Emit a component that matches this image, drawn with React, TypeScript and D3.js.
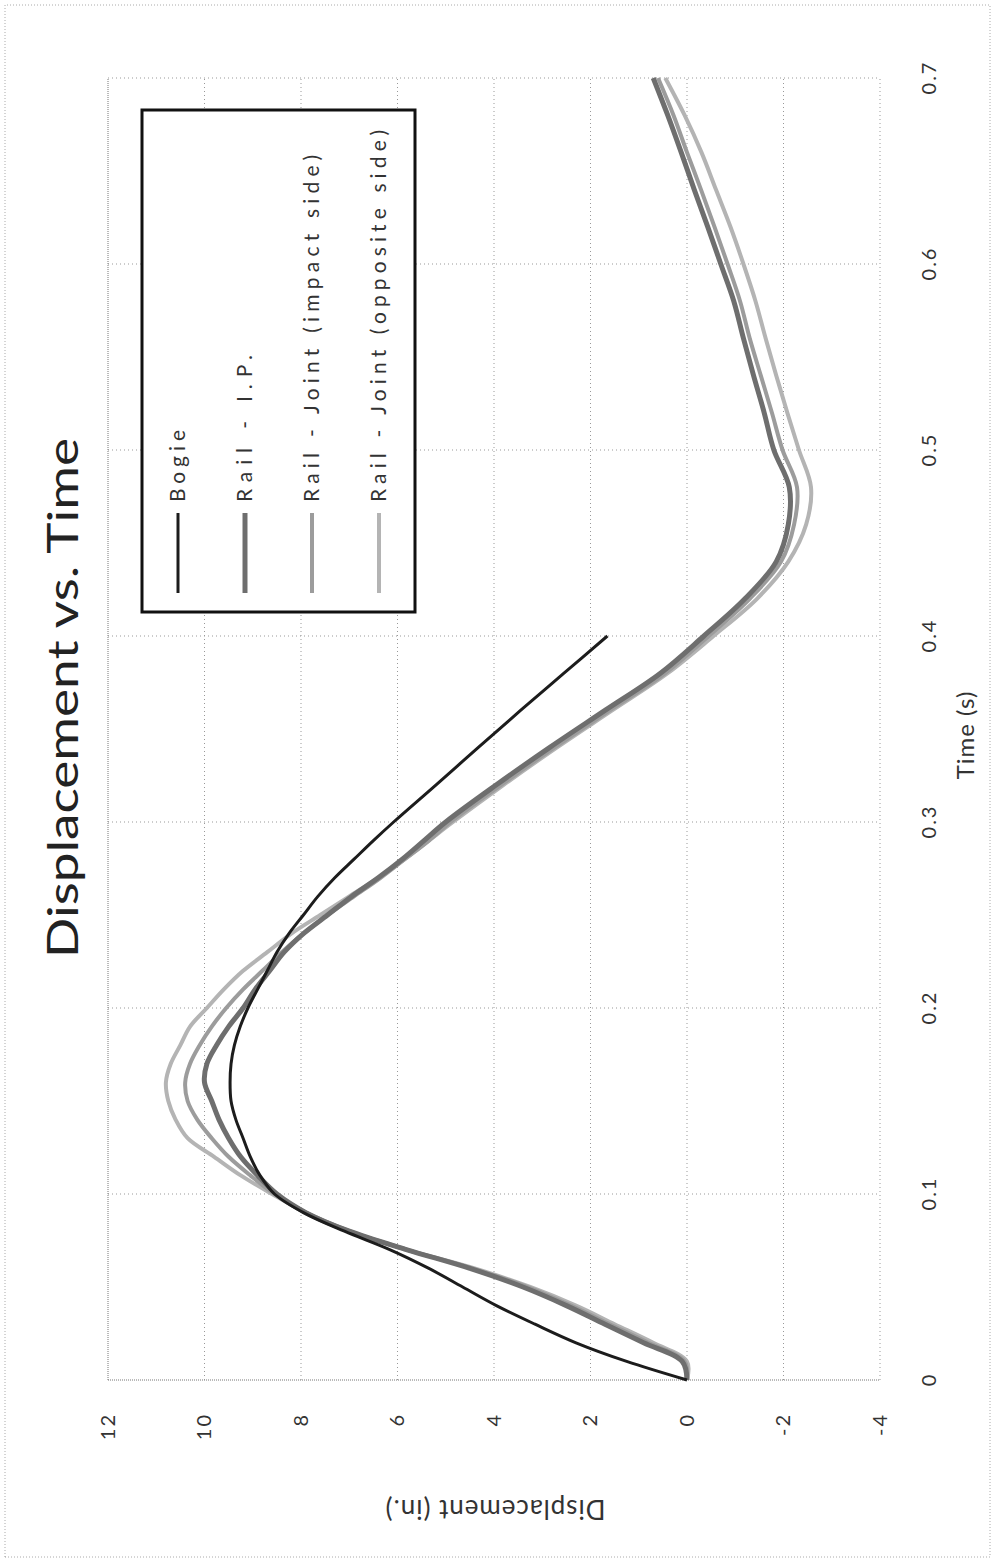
import React, { useEffect, useRef } from 'react';
import * as d3 from 'd3';

// time (s) of the rail samples
const timeRail = [
  0, 0.01, 0.02, 0.03, 0.04, 0.05, 0.06, 0.07, 0.08, 0.09,
  0.1, 0.11, 0.12, 0.13, 0.14, 0.15, 0.16, 0.17, 0.18, 0.19,
  0.2, 0.21, 0.22, 0.23, 0.24, 0.25, 0.26, 0.27, 0.28, 0.29,
  0.3, 0.32, 0.34, 0.36, 0.38, 0.4, 0.42, 0.44, 0.46, 0.48,
  0.5, 0.52, 0.54, 0.56, 0.58, 0.6, 0.62, 0.64, 0.66, 0.68, 0.7,
];

// bogie stops at 0.4 s
const timeBogie = [
  0, 0.01, 0.02, 0.03, 0.04, 0.05, 0.06, 0.07, 0.08, 0.09,
  0.1, 0.11, 0.12, 0.13, 0.14, 0.15, 0.16, 0.17, 0.18, 0.19,
  0.2, 0.21, 0.22, 0.23, 0.24, 0.25, 0.26, 0.27, 0.28, 0.29,
  0.3, 0.32, 0.34, 0.36, 0.38, 0.4,
];

const bogie = [
  0, 1.25, 2.3, 3.15, 3.95, 4.65, 5.35, 6.15, 7.1, 7.95,
  8.55, 8.85, 9.05, 9.2, 9.35, 9.45, 9.47, 9.45, 9.38, 9.26,
  9.1, 8.9, 8.7, 8.5, 8.25, 7.95, 7.65, 7.3, 6.9, 6.5,
  6.08, 5.2, 4.33, 3.45, 2.55, 1.65,
];

const railIP = [
  0, 0.1, 0.9, 1.7, 2.5, 3.4, 4.5, 5.8, 7.0, 7.9,
  8.5, 8.9, 9.25, 9.5, 9.7, 9.85, 10.0, 9.95, 9.75, 9.5,
  9.2, 8.95, 8.65, 8.35, 7.95, 7.45, 6.95, 6.4, 5.9, 5.45,
  5.0, 3.95, 2.85, 1.7, 0.55, -0.35, -1.2, -1.85, -2.1, -2.12,
  -1.8, -1.6, -1.38, -1.17, -0.97, -0.7, -0.43, -0.15, 0.12, 0.4, 0.7,
];

const jointImpact = [
  0, 0.05, 0.8, 1.6, 2.4, 3.3, 4.45, 5.8, 7.0, 7.9,
  8.55, 9.05, 9.5, 9.85, 10.15, 10.35, 10.4, 10.3, 10.1, 9.85,
  9.55, 9.2, 8.8, 8.4, 7.95, 7.45, 6.9, 6.35, 5.85, 5.35,
  4.9, 3.85, 2.75, 1.6, 0.45, -0.45, -1.3, -1.95, -2.22, -2.28,
  -1.98, -1.76, -1.53, -1.3, -1.1, -0.84, -0.57, -0.29, 0.0, 0.28, 0.6,
];

const jointOpposite = [
  0, 0.0, 0.7, 1.5, 2.3, 3.25, 4.4, 5.8, 7.0, 7.9,
  8.6, 9.25, 9.8, 10.35, 10.6, 10.75, 10.8, 10.7, 10.5, 10.3,
  9.95, 9.6, 9.2, 8.7, 8.2, 7.6, 7.0, 6.4, 5.85, 5.35,
  4.85, 3.8, 2.7, 1.55, 0.4, -0.55, -1.45, -2.1, -2.47, -2.57,
  -2.32, -2.08, -1.85, -1.63, -1.42, -1.17, -0.9, -0.6, -0.3, 0.05, 0.45,
];

const timeTicks = [0, 0.1, 0.2, 0.3, 0.4, 0.5, 0.6, 0.7];
const dispTicks = [-4, -2, 0, 2, 4, 6, 8, 10, 12];

const seriesNames = ['Bogie', 'Rail - I.P.', 'Rail - Joint (impact side)', 'Rail - Joint (opposite side)'];
const seriesColors = ['#1c1c1c', '#6e6e6e', '#9c9c9c', '#b4b4b4'];
const seriesWidths = [3, 5, 4, 4];
const legendLengths = [72, 147, 347, 372];

const FONT = "Lato, 'Open Sans', sans-serif";

const App = () => {
  const ref = useRef(null);

  useEffect(() => {
    if (!ref.current) return;
    d3.select(ref.current).selectAll('*').remove();

    const pageW = 995;
    const pageH = 1560;

    const svg = d3.select(ref.current)
      .append('svg')
      .attr('width', pageW)
      .attr('height', pageH)
      .style('position', 'absolute')
      .style('left', '0px')
      .style('top', '0px')
      .style('background', '#fff');

    // the whole chart is drawn upright and then turned a quarter left
    const g = svg.append('g')
      .attr('transform', `translate(0,${pageH}) rotate(-90)`);

    const plot = { left: 180, right: 1482, top: 108, bottom: 880 };

    const x = d3.scaleLinear().domain([0, 0.7]).range([plot.left, plot.right]);
    const y = d3.scaleLinear().domain([-4, 12]).range([plot.bottom, plot.top]);

    // chart area border
    g.append('rect')
      .attr('x', 3).attr('y', 5)
      .attr('width', 1552).attr('height', 985)
      .attr('fill', 'none')
      .attr('stroke', '#aaa')
      .attr('stroke-width', 1)
      .attr('stroke-dasharray', '1,2');

    // grid
    g.selectAll('.vgrid')
      .data(timeTicks)
      .enter()
      .append('line')
      .attr('x1', d => x(d)).attr('x2', d => x(d))
      .attr('y1', plot.top).attr('y2', plot.bottom)
      .attr('stroke', d => (d === 0 ? '#777' : '#999'))
      .attr('stroke-width', 1)
      .attr('stroke-dasharray', d => (d === 0 ? '1,1' : '1,3'));

    g.selectAll('.hgrid')
      .data(dispTicks)
      .enter()
      .append('line')
      .attr('x1', plot.left).attr('x2', plot.right)
      .attr('y1', d => y(d)).attr('y2', d => y(d))
      .attr('stroke', d => (d === 12 ? '#777' : '#999'))
      .attr('stroke-width', 1)
      .attr('stroke-dasharray', d => (d === 12 ? '1,1' : '1,3'));

    // axes
    const xAxis = g.append('g')
      .attr('transform', `translate(0,${plot.bottom})`)
      .call(d3.axisBottom(x).tickValues(timeTicks).tickSize(0).tickPadding(42).tickFormat(d => String(d)));
    const yAxis = g.append('g')
      .attr('transform', `translate(${plot.left},0)`)
      .call(d3.axisLeft(y).tickValues(dispTicks).tickSize(0).tickPadding(33).tickFormat(d => String(d)));
    [xAxis, yAxis].forEach(a => {
      a.select('.domain').remove();
      a.selectAll('text')
        .attr('font-family', FONT)
        .attr('font-size', 20)
        .attr('letter-spacing', 2)
        .attr('fill', '#333');
    });

    // series
    const line = d3.line()
      .x(d => x(d[0]))
      .y(d => y(d[1]))
      .curve(d3.curveCatmullRom.alpha(0.5));

    const series = [
      timeBogie.map((t, i) => [t, bogie[i]]),
      timeRail.map((t, i) => [t, railIP[i]]),
      timeRail.map((t, i) => [t, jointImpact[i]]),
      timeRail.map((t, i) => [t, jointOpposite[i]]),
    ];

    [3, 2, 1, 0].forEach(i => {
      g.append('path')
        .datum(series[i])
        .attr('d', line)
        .attr('fill', 'none')
        .attr('stroke', seriesColors[i])
        .attr('stroke-width', seriesWidths[i])
        .attr('stroke-linejoin', 'round');
    });

    // title
    g.append('text')
      .attr('x', 862)
      .attr('y', 78)
      .attr('text-anchor', 'middle')
      .attr('font-family', FONT)
      .attr('font-size', 42)
      .attr('textLength', 520)
      .attr('lengthAdjust', 'spacingAndGlyphs')
      .attr('fill', '#222')
      .text('Displacement vs. Time');

    // axis titles
    g.append('text')
      .attr('x', 825)
      .attr('y', 974)
      .attr('text-anchor', 'middle')
      .attr('font-family', FONT)
      .attr('font-size', 24)
      .attr('letter-spacing', 1)
      .attr('fill', '#333')
      .text('Time (s)');

    g.append('text')
      .attr('transform', `translate(60,495) rotate(-90)`)
      .attr('text-anchor', 'middle')
      .attr('font-family', FONT)
      .attr('font-size', 26)
      .attr('letter-spacing', 1)
      .attr('fill', '#333')
      .text('Displacement (in.)');

    // legend
    const legend = g.append('g');
    legend.append('rect')
      .attr('x', 948).attr('y', 142)
      .attr('width', 502).attr('height', 273)
      .attr('fill', '#fff')
      .attr('stroke', '#111')
      .attr('stroke-width', 3);

    seriesNames.forEach((name, i) => {
      const rowY = 178 + i * 67;
      legend.append('line')
        .attr('x1', 967).attr('x2', 1047)
        .attr('y1', rowY).attr('y2', rowY)
        .attr('stroke', seriesColors[i])
        .attr('stroke-width', seriesWidths[i]);
      legend.append('text')
        .attr('x', 1058)
        .attr('y', rowY)
        .attr('dy', '0.35em')
        .attr('font-family', FONT)
        .attr('font-size', 21)
        .attr('textLength', legendLengths[i])
        .attr('lengthAdjust', 'spacing')
        .attr('fill', '#333')
        .text(name);
    });
  }, []);

  return <div ref={ref}></div>;
};

export default App;
